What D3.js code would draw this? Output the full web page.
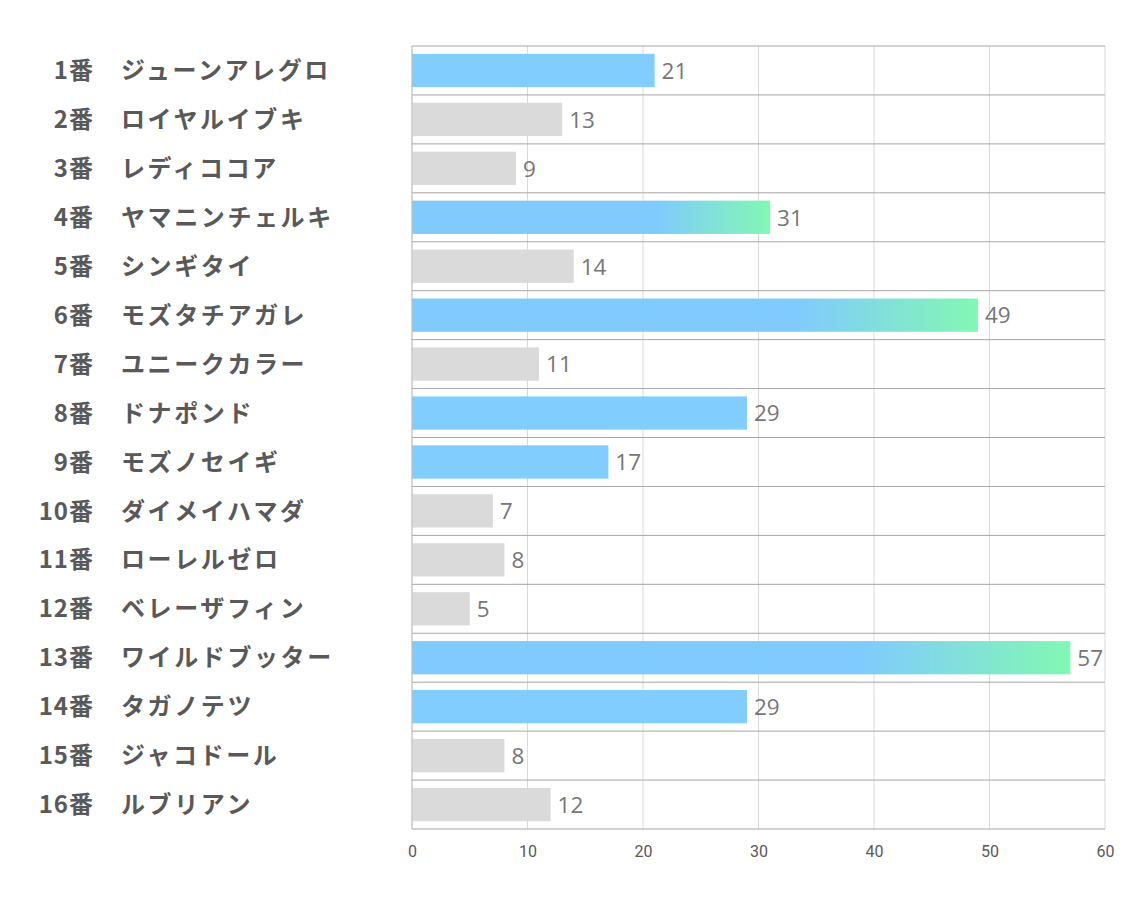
<!DOCTYPE html>
<html><head><meta charset="utf-8">
<script src="https://cdn.jsdelivr.net/npm/d3@7"></script>
<style>body{margin:0;background:#fff}</style>
</head><body>
<svg id="c" width="1134" height="907"></svg>
<script>
const numbers = ["1番","2番","3番","4番","5番","6番","7番","8番","9番","10番","11番","12番","13番","14番","15番","16番"];
const names = ["ジューンアレグロ","ロイヤルイブキ","レディココア","ヤマニンチェルキ","シンギタイ","モズタチアガレ","ユニークカラー","ドナポンド","モズノセイギ","ダイメイハマダ","ローレルゼロ","ベレーザフィン","ワイルドブッター","タガノテツ","ジャコドール","ルブリアン"];
const values = [21,13,9,31,14,49,11,29,17,7,8,5,57,29,8,12];
const kinds = ["blue","gray","gray","grad","gray","grad","gray","blue","blue","gray","gray","gray","grad","blue","gray","gray"];
const ticks = [0,10,20,30,40,50,60];

const svg = d3.select("#c");
const m = {left:412, right:1105, top:46, bottom:829};
const x = d3.scaleLinear().domain([0,60]).range([m.left,m.right]);
const y = d3.scaleBand().domain(d3.range(values.length)).range([m.top,m.bottom]).paddingInner(0.32).paddingOuter(0.16);
const step = y.step();

const defs = svg.append("defs");
values.forEach((v,i)=>{
  if(kinds[i]!=="grad") return;
  const g = defs.append("linearGradient").attr("id","g"+i).attr("x1","0").attr("x2","1").attr("y1","0").attr("y2","0");
  g.append("stop").attr("offset","0.68").attr("stop-color","#7cc9fe");
  g.append("stop").attr("offset","1").attr("stop-color","#7ff7b1");
});

// vertical gridlines
svg.append("g").selectAll("line").data(ticks).join("line")
  .attr("x1",d=>x(d)).attr("x2",d=>x(d)).attr("y1",m.top).attr("y2",m.bottom)
  .attr("stroke","#d9d9d9").attr("stroke-width",1);

// bars
svg.append("g").selectAll("rect").data(values).join("rect")
  .attr("x",x(0)).attr("y",(d,i)=>y(i)).attr("height",y.bandwidth())
  .attr("width",d=>x(d)-x(0))
  .attr("fill",(d,i)=>kinds[i]==="blue"?"#7ccbfe":kinds[i]==="gray"?"#d9d9d9":`url(#g${i})`)
  .attr("opacity",0.97);

// horizontal row lines
svg.append("g").selectAll("line").data(d3.range(values.length+1)).join("line")
  .attr("x1",m.left).attr("x2",m.right)
  .attr("y1",i=>m.top+i*step).attr("y2",i=>m.top+i*step)
  .attr("stroke","#a6a6a6").attr("stroke-width",1);
svg.append("line").attr("x1",m.left).attr("x2",m.left).attr("y1",m.top).attr("y2",m.bottom).attr("stroke","#bfbfbf");

// value labels
svg.append("g").selectAll("text").data(values).join("text")
  .attr("x",d=>x(d)+7).attr("y",(d,i)=>y(i)+y.bandwidth()/2)
  .attr("dy","0.37em").attr("font-family","'Open Sans','Noto Sans',sans-serif")
  .attr("font-size",22.5).attr("fill","#767676").text(d=>d);

// row labels
const lab = svg.append("g").attr("font-family","'Noto Sans CJK JP',sans-serif").attr("font-weight","bold").attr("font-size",24).attr("fill","#595959");
lab.selectAll("text.n").data(numbers).join("text").attr("class","n")
  .attr("x",94).attr("text-anchor","end").attr("y",(d,i)=>y(i)+y.bandwidth()/2).attr("dy","0.36em").attr("letter-spacing",1).text(d=>d);
lab.selectAll("text.m").data(names).join("text").attr("class","m")
  .attr("x",121).attr("y",(d,i)=>y(i)+y.bandwidth()/2).attr("dy","0.36em").attr("letter-spacing",2.6).text(d=>d);

// x axis ticks
const ax = svg.append("g").attr("transform",`translate(0,${m.bottom})`)
  .call(d3.axisBottom(x).tickValues(ticks).tickSize(0).tickPadding(17));
ax.select(".domain").remove();
ax.selectAll("text").attr("font-family","'Liberation Sans Narrow','Roboto','Noto Sans',sans-serif").attr("font-size",16).attr("fill","#595959");
</script>
</body></html>
